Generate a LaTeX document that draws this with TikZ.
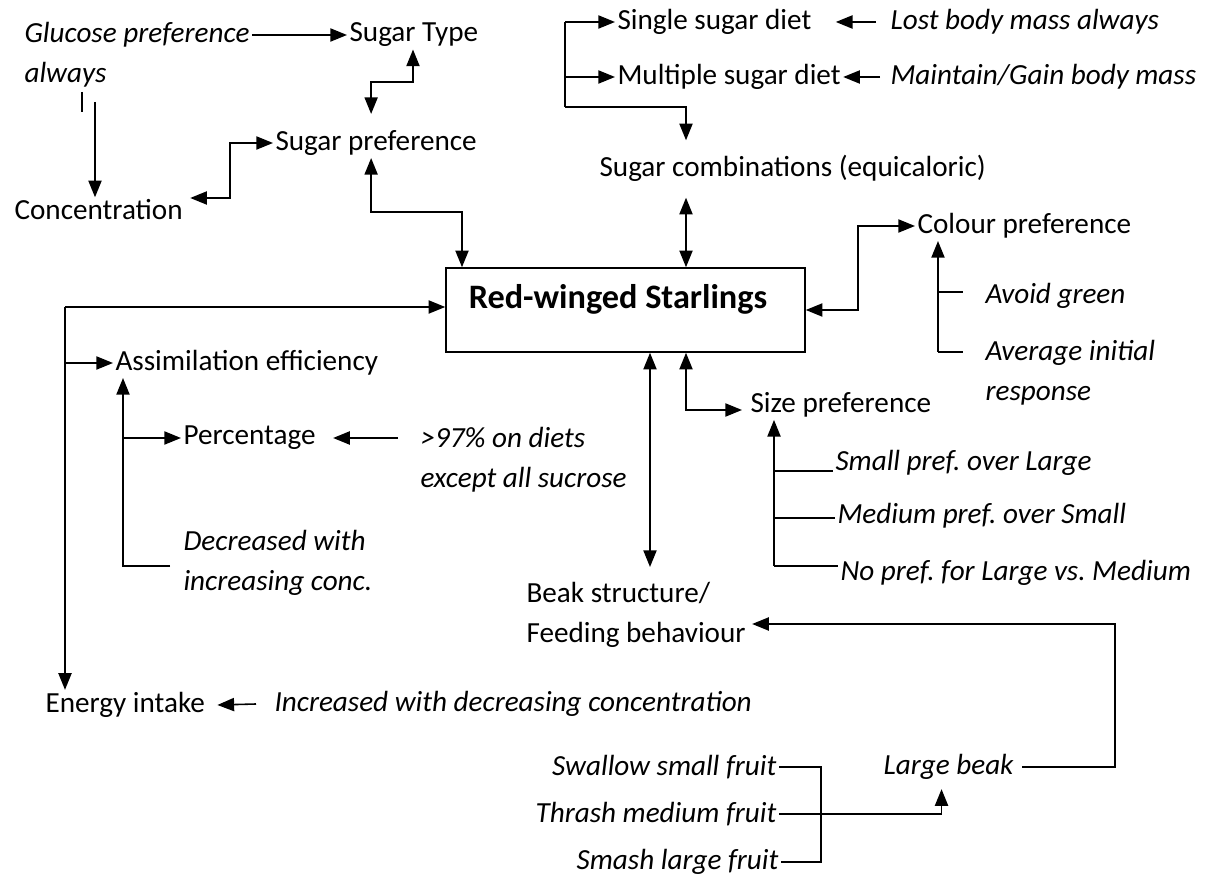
\documentclass[tikz,border=0pt]{standalone}
\usepackage{fontspec}
\setmainfont{Carlito}
\usetikzlibrary{arrows.meta,calc,positioning}
\frenchspacing

\begin{document}
\begin{tikzpicture}[x=0.02cm,y=-0.02cm,>={Triangle[length=9.5pt,width=7.5pt]},line width=0.9pt,
  txt/.style={anchor=west,inner sep=1pt,align=left,font=\fontsize{16.6}{22.8}\selectfont},
  note/.style={txt,font=\fontsize{16.6}{22.8}\selectfont\itshape},
  mainbox/.style={draw,inner sep=0pt,minimum width=7.18cm,minimum height=1.68cm,text height=0.4cm,text depth=0.44cm,font=\fontsize{19.5}{22}\selectfont\bfseries}]
  \useasboundingbox (0,0) rectangle (1214,881);

  % central box
  \node[mainbox] (rws) at (625.5,310) {Red-winged Starlings\hspace*{0.3cm}};

  % sugar side (top left)
  \node[note] (glu1) at (22,35) {Glucose preference};
  \node[note] (glu2) at (22,75) {always};
  \node[txt] (stype) at (347,35) {Sugar Type};
  \node[txt] (spref) at (273,143) {Sugar preference};
  \node[txt] (conc) at (12,210) {Concentration};

  % diets (top right)
  \node[txt] (single) at (615,22) {Single sugar diet};
  \node[txt] (multi) at (615,77) {Multiple sugar diet};
  \node[note] (lost) at (888,22) {Lost body mass always};
  \node[note] (gain) at (888,77) {Maintain/Gain body mass};
  \node[txt] (combo) at (597,168) {Sugar combinations (equicaloric)};

  % colour and size
  \node[txt] (colour) at (915,226) {Colour preference};
  \node[note] (avoid) at (983,296) {Avoid green};
  \node[note] (avg) at (983,373) {Average initial\\response};
  \node[txt] (size) at (748,405) {Size preference};
  \node[note] (small) at (833,463) {Small pref. over Large};
  \node[note] (medium) at (835,516) {Medium pref. over Small};
  \node[note] (nopref) at (838,573) {No pref. for Large vs. Medium};

  % beak
  \node[txt] (beak) at (524,615) {Beak structure/\\Feeding behaviour};
  \node[note] (large) at (881,767) {Large beak};
  \node[note,anchor=east] (swallow) at (779,767) {Swallow small fruit};
  \node[note,anchor=east] (thrash) at (779,814) {Thrash medium fruit};
  \node[note,anchor=east] (smash) at (781,862) {Smash large fruit};

  % assimilation and energy (left)
  \node[txt] (assim) at (113,363) {Assimilation efficiency};
  \node[txt] (perc) at (181,438) {Percentage};
  \node[note] (pct) at (418,460) {>97\% on diets\\except all sucrose};
  \node[note] (decr) at (181,563) {Decreased with\\increasing conc.};
  \node[txt] (energy) at (43,705) {Energy intake};
  \node[note] (incr) at (272,704) {Increased with decreasing concentration};

  % sugar type / preference
  \draw[->] (glu1.east) -- (stype.west);
  \draw (82,92) -- (82,112);
  \coordinate (gdown) at (95,102);
  \draw[->] (gdown) -- (gdown |- conc.north);
  \draw[<->] ($(conc.east)+(5,-12)$) -- ++(40,0) |- (spref.west);
  \coordinate (tbend) at (413,82);
  \draw[<->] ($(spref.north)+(-5,-14)$) |- (tbend) -- (tbend |- stype.south);
  \coordinate (pbend) at (462,212);
  \draw[<->] ($(spref.south)+(-5,0)$) |- (pbend) -- (pbend |- rws.north);

  % diets
  \coordinate (dbend) at (565,107);
  \draw (dbend) -- (dbend |- single.west);
  \draw[->] (dbend |- single.west) -- (single.west);
  \draw[->] (dbend |- multi.west) -- (multi.west);
  \draw[->] (dbend) -| ($(combo.north west)+(89,-12)$);
  \draw[->] ($(lost.west)+(-12,0)$) -- ($(single.east)+(22,0)$);
  \draw[->] ($(gain.west)+(-8,0)$) -- (multi.east);
  \coordinate (ctop) at ($(combo.south west)+(89,14)$);
  \draw[<->] (ctop) -- (ctop |- rws.north);

  % colour
  \draw[<->] (rws.east) -- ++(52,0) |- (colour.west);
  \coordinate (cbend) at (938,352);
  \draw[->] (cbend) -- (cbend |- colour.south);
  \draw (cbend) -- ++(25,0);
  \draw ($(cbend |- avoid.west)+(0,-4)$) -- ++(25,0);

  % size
  \coordinate (sbend) at (686,410);
  \draw[<->] (sbend |- rws.south) -- (sbend) -- ($(sbend -| size.west)+(-6,0)$);
  \coordinate (zbend) at (774,566);
  \draw[->] (zbend) -- (zbend |- size.south);
  \draw (zbend) -- (zbend -| nopref.west);
  \draw ($(zbend |- small.west)+(0,8)$) -- ($(small.west)+(0,8)$);
  \draw ($(zbend |- medium.west)+(0,2)$) -- ($(medium.west)+(0,2)$);

  % beak
  \coordinate (bkend) at (650,567);
  \draw[<->] (bkend |- rws.south) -- (bkend);
  \draw[->] ($(large.east)+(6,0)$) -- ++(93,0) |- ($(beak.east)+(4,9)$);
  \draw (swallow.east) -- ++(42,0) |- (smash.east);
  \draw[->] (thrash.east) -| ($(large.south)+(-7,7)$);

  % left side
  \coordinate (lbend) at (65,307);
  \draw[->] (lbend) -- (lbend -| rws.west);
  \draw[->] (lbend) -- (lbend |- energy.north);
  \draw[->] (lbend |- assim.west) -- (assim.west);
  \coordinate (abend) at (123,566);
  \draw[->] ($(abend)+(47,0)$) -- (abend) -- (abend |- assim.south);
  \draw[->] (abend |- perc.west) -- (perc.west);
  \draw[->] ($(pct.west |- perc.east)+(-20,0)$) -- ($(perc.east)+(15,0)$);
  \draw[->] ($(incr.west)+(-16,0)$) -- ($(energy.east)+(10,0)$);
\end{tikzpicture}
\end{document}
